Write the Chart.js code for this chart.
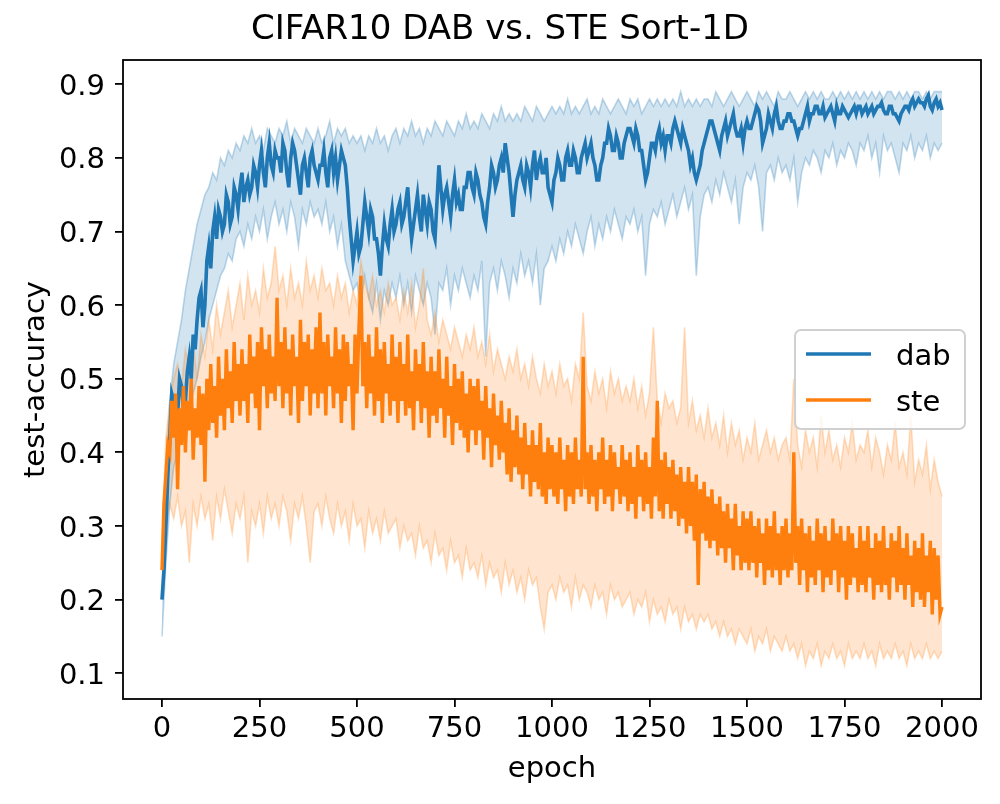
<!DOCTYPE html>
<html>
<head>
<meta charset="utf-8">
<title>CIFAR10 DAB vs. STE Sort-1D</title>
<script src="https://cdn.jsdelivr.net/npm/chart.js@4.4.1/dist/chart.umd.min.js"></script>
<style>
    html, body { margin: 0; padding: 0; background: #fff; }
    canvas { display: block; }
</style>
</head>
<body>
<canvas id="lineChart" width="1000" height="804"></canvas>
<script>
// bands: one value every 10 epochs; mean curves: every 5 epochs
var BAND_STEP = 10;
var MEAN_STEP = 5;

var dabMean = [
    0.20, 0.24, 0.30, 0.37, 0.42, 0.48, 0.47, 0.44, 0.45, 0.50, 0.49, 0.46, 0.47, 0.51, 0.53, 0.50, 0.56, 0.54, 0.58, 0.61,
    0.62, 0.57, 0.60, 0.66, 0.68, 0.65, 0.70, 0.72, 0.69, 0.73, 0.72, 0.70, 0.71, 0.75, 0.74, 0.71, 0.72, 0.76, 0.75, 0.73,
    0.76, 0.78, 0.74, 0.76, 0.77, 0.75, 0.76, 0.79, 0.78, 0.76, 0.79, 0.81, 0.78, 0.76, 0.80, 0.82, 0.79, 0.78, 0.81, 0.80,
    0.80, 0.78, 0.82, 0.81, 0.78, 0.76, 0.80, 0.82, 0.81, 0.79, 0.77, 0.75, 0.79, 0.80, 0.78, 0.76, 0.80, 0.81, 0.79, 0.78,
    0.77, 0.79, 0.79, 0.81, 0.78, 0.76, 0.80, 0.81, 0.78, 0.80, 0.77, 0.79, 0.81, 0.80, 0.79, 0.76, 0.72, 0.69, 0.66, 0.68,
    0.70, 0.67, 0.68, 0.71, 0.74, 0.72, 0.70, 0.73, 0.72, 0.69, 0.69, 0.67, 0.64, 0.68, 0.71, 0.69, 0.68, 0.71, 0.73, 0.70,
    0.71, 0.73, 0.74, 0.71, 0.72, 0.74, 0.76, 0.72, 0.69, 0.71, 0.73, 0.75, 0.72, 0.70, 0.75, 0.73, 0.71, 0.74, 0.73, 0.70,
    0.69, 0.74, 0.79, 0.76, 0.73, 0.75, 0.76, 0.74, 0.72, 0.75, 0.77, 0.74, 0.75, 0.73, 0.73, 0.76, 0.76, 0.78, 0.78, 0.76,
    0.75, 0.78, 0.77, 0.75, 0.74, 0.72, 0.71, 0.74, 0.76, 0.79, 0.78, 0.76, 0.77, 0.79, 0.80, 0.78, 0.82, 0.80, 0.78, 0.75,
    0.72, 0.75, 0.77, 0.78, 0.79, 0.77, 0.76, 0.79, 0.78, 0.76, 0.79, 0.81, 0.77, 0.79, 0.80, 0.78, 0.78, 0.80, 0.76, 0.75,
    0.74, 0.77, 0.78, 0.80, 0.79, 0.77, 0.77, 0.80, 0.81, 0.79, 0.79, 0.81, 0.80, 0.78, 0.78, 0.80, 0.81, 0.82, 0.80, 0.81,
    0.82, 0.80, 0.79, 0.77, 0.77, 0.79, 0.80, 0.82, 0.82, 0.84, 0.83, 0.81, 0.81, 0.83, 0.82, 0.80, 0.80, 0.82, 0.83, 0.84,
    0.84, 0.83, 0.82, 0.84, 0.83, 0.81, 0.81, 0.79, 0.77, 0.78, 0.80, 0.82, 0.82, 0.81, 0.83, 0.84, 0.82, 0.83, 0.81, 0.83,
    0.83, 0.82, 0.84, 0.85, 0.84, 0.83, 0.82, 0.84, 0.83, 0.82, 0.81, 0.79, 0.80, 0.78, 0.77, 0.78, 0.79, 0.81, 0.82, 0.83,
    0.84, 0.85, 0.85, 0.84, 0.83, 0.82, 0.81, 0.83, 0.84, 0.85, 0.83, 0.84, 0.85, 0.86, 0.84, 0.83, 0.83, 0.84, 0.82, 0.84,
    0.85, 0.84, 0.84, 0.85, 0.86, 0.87, 0.865, 0.85, 0.82, 0.83, 0.84, 0.86, 0.85, 0.84, 0.86, 0.87, 0.85, 0.84, 0.84, 0.85,
    0.85, 0.86, 0.86, 0.85, 0.85, 0.84, 0.83, 0.84, 0.84, 0.85, 0.86, 0.87, 0.85, 0.86, 0.86, 0.87, 0.87, 0.86, 0.86, 0.87,
    0.855, 0.86, 0.865, 0.87, 0.86, 0.85, 0.87, 0.86, 0.86, 0.87, 0.865, 0.86, 0.855, 0.86, 0.865, 0.87, 0.86, 0.87, 0.87, 0.86,
    0.865, 0.87, 0.86, 0.865, 0.87, 0.86, 0.865, 0.87, 0.87, 0.875, 0.865, 0.86, 0.86, 0.87, 0.87, 0.86, 0.86, 0.855, 0.85, 0.86,
    0.865, 0.87, 0.87, 0.865, 0.875, 0.88, 0.87, 0.875, 0.88, 0.875, 0.875, 0.87, 0.88, 0.885, 0.87, 0.865, 0.875, 0.88, 0.87, 0.875,
    0.865
];
var dabUpper = [
    0.24, 0.38, 0.47, 0.52, 0.55, 0.58, 0.62, 0.65, 0.68, 0.71, 0.73, 0.75, 0.76, 0.78, 0.77, 0.80, 0.79, 0.81, 0.80, 0.82,
    0.81, 0.83, 0.82, 0.84, 0.82, 0.83, 0.81, 0.84, 0.83, 0.82, 0.84, 0.83, 0.85, 0.82, 0.84, 0.83, 0.82, 0.84, 0.83, 0.82,
    0.84, 0.82, 0.83, 0.85, 0.82, 0.84, 0.83, 0.84, 0.82, 0.83, 0.82, 0.83, 0.81, 0.83, 0.82, 0.84, 0.82, 0.83, 0.81, 0.83,
    0.84, 0.82, 0.84, 0.83, 0.85, 0.83, 0.84, 0.82, 0.84, 0.83, 0.85, 0.84, 0.83, 0.85, 0.84, 0.83, 0.85, 0.84, 0.86, 0.84,
    0.85, 0.84, 0.86, 0.85, 0.84, 0.86, 0.85, 0.87, 0.85, 0.86, 0.85, 0.86, 0.85, 0.87, 0.86, 0.85, 0.87, 0.86, 0.85, 0.86,
    0.87, 0.86, 0.87, 0.86, 0.88, 0.86, 0.87, 0.86, 0.87, 0.88, 0.86, 0.87, 0.86, 0.88, 0.87, 0.86, 0.87, 0.88, 0.87, 0.86,
    0.88, 0.87, 0.88, 0.86, 0.87, 0.88, 0.87, 0.88, 0.87, 0.88, 0.87, 0.88, 0.87, 0.89, 0.87, 0.88, 0.87, 0.88, 0.87, 0.88,
    0.88, 0.87, 0.89, 0.88, 0.87, 0.88, 0.89, 0.88, 0.87, 0.88, 0.89, 0.88, 0.87, 0.89, 0.88, 0.89, 0.88, 0.87, 0.89, 0.88,
    0.88, 0.89, 0.88, 0.87, 0.88, 0.89, 0.88, 0.89, 0.88, 0.89, 0.88, 0.88, 0.89, 0.88, 0.89, 0.88, 0.89, 0.88, 0.89, 0.88,
    0.89, 0.88, 0.89, 0.88, 0.89, 0.88, 0.89, 0.89, 0.88, 0.89, 0.88, 0.89, 0.88, 0.89, 0.89, 0.88, 0.89, 0.88, 0.89, 0.89,
    0.89
];
var dabLower = [
    0.15, 0.25, 0.33, 0.38, 0.40, 0.42, 0.44, 0.46, 0.48, 0.50, 0.53, 0.55, 0.58, 0.60, 0.62, 0.64, 0.65, 0.67, 0.66, 0.69,
    0.70, 0.68, 0.71, 0.69, 0.72, 0.70, 0.73, 0.69, 0.72, 0.74, 0.71, 0.73, 0.70, 0.74, 0.72, 0.68, 0.73, 0.71, 0.74, 0.72,
    0.73, 0.71, 0.74, 0.70, 0.72, 0.68, 0.71, 0.66, 0.64, 0.62, 0.63, 0.60, 0.64, 0.61, 0.59, 0.63, 0.58, 0.62, 0.60, 0.63,
    0.61, 0.64, 0.60, 0.63, 0.59, 0.64, 0.62, 0.60, 0.63, 0.61, 0.56, 0.63, 0.62, 0.65, 0.60, 0.64, 0.62, 0.65, 0.63, 0.61,
    0.64, 0.62, 0.66, 0.53, 0.63, 0.65, 0.62, 0.66, 0.64, 0.61, 0.65, 0.63, 0.67, 0.64, 0.66, 0.63, 0.67, 0.60, 0.65, 0.66,
    0.68, 0.66, 0.69, 0.67, 0.70, 0.68, 0.71, 0.69, 0.67, 0.70, 0.72, 0.68, 0.71, 0.69, 0.72, 0.70, 0.73, 0.71, 0.69, 0.72,
    0.71, 0.73, 0.70, 0.72, 0.64, 0.71, 0.73, 0.72, 0.74, 0.71, 0.73, 0.75, 0.72, 0.74, 0.76, 0.73, 0.75, 0.64, 0.72, 0.75,
    0.76, 0.74, 0.77, 0.75, 0.78, 0.76, 0.74, 0.77, 0.71, 0.76, 0.78, 0.77, 0.79, 0.76, 0.70, 0.78, 0.79, 0.77, 0.80, 0.78,
    0.79, 0.77, 0.80, 0.74, 0.78, 0.80, 0.79, 0.81, 0.80, 0.78, 0.81, 0.80, 0.82, 0.79, 0.81, 0.80, 0.82, 0.81, 0.79, 0.82,
    0.81, 0.83, 0.80, 0.82, 0.78, 0.83, 0.81, 0.82, 0.80, 0.78, 0.82, 0.81, 0.83, 0.80, 0.82, 0.81, 0.83, 0.80, 0.82, 0.81,
    0.82
];

var steMean = [
    0.24, 0.33, 0.37, 0.41, 0.40, 0.47, 0.42, 0.48, 0.35, 0.46, 0.41, 0.49, 0.40, 0.47, 0.43, 0.50, 0.39, 0.46, 0.42, 0.49,
    0.41, 0.48, 0.36, 0.50, 0.43, 0.52, 0.44, 0.49, 0.42, 0.53, 0.45, 0.50, 0.43, 0.54, 0.46, 0.51, 0.44, 0.55, 0.47, 0.52,
    0.45, 0.54, 0.47, 0.52, 0.44, 0.56, 0.48, 0.53, 0.46, 0.55, 0.43, 0.57, 0.49, 0.54, 0.46, 0.56, 0.48, 0.53, 0.47, 0.61,
    0.49, 0.55, 0.46, 0.57, 0.48, 0.54, 0.45, 0.56, 0.49, 0.53, 0.44, 0.58, 0.47, 0.55, 0.49, 0.56, 0.45, 0.54, 0.48, 0.57,
    0.46, 0.59, 0.48, 0.55, 0.45, 0.56, 0.49, 0.53, 0.46, 0.57, 0.48, 0.54, 0.44, 0.56, 0.47, 0.55, 0.49, 0.52, 0.43, 0.56,
    0.48, 0.57, 0.64, 0.49, 0.55, 0.46, 0.56, 0.48, 0.53, 0.45, 0.57, 0.47, 0.54, 0.44, 0.55, 0.48, 0.52, 0.45, 0.56, 0.47,
    0.53, 0.44, 0.55, 0.47, 0.52, 0.45, 0.56, 0.46, 0.51, 0.43, 0.54, 0.47, 0.52, 0.44, 0.55, 0.46, 0.51, 0.42, 0.53, 0.45,
    0.51, 0.44, 0.54, 0.46, 0.50, 0.42, 0.53, 0.45, 0.49, 0.41, 0.52, 0.44, 0.50, 0.43, 0.51, 0.42, 0.48, 0.40, 0.50, 0.43,
    0.49, 0.41, 0.50, 0.43, 0.47, 0.39, 0.49, 0.42, 0.46, 0.38, 0.48, 0.41, 0.45, 0.39, 0.47, 0.40, 0.44, 0.37, 0.46, 0.36,
    0.43, 0.38, 0.45, 0.37, 0.42, 0.35, 0.44, 0.37, 0.41, 0.34, 0.43, 0.36, 0.41, 0.35, 0.44, 0.34, 0.40, 0.33, 0.42, 0.35,
    0.41, 0.34, 0.40, 0.33, 0.42, 0.35, 0.39, 0.32, 0.41, 0.34, 0.40, 0.33, 0.42, 0.35, 0.39, 0.34, 0.53, 0.35, 0.40, 0.33,
    0.41, 0.34, 0.39, 0.32, 0.40, 0.35, 0.42, 0.33, 0.39, 0.34, 0.41, 0.32, 0.40, 0.35, 0.38, 0.33, 0.41, 0.34, 0.39, 0.32,
    0.40, 0.33, 0.38, 0.31, 0.41, 0.34, 0.39, 0.32, 0.40, 0.33, 0.38, 0.31, 0.42, 0.34, 0.47, 0.32, 0.39, 0.31, 0.40, 0.33,
    0.38, 0.31, 0.39, 0.32, 0.37, 0.30, 0.38, 0.31, 0.36, 0.29, 0.38, 0.30, 0.36, 0.28, 0.37, 0.22, 0.35, 0.29, 0.36, 0.28,
    0.34, 0.27, 0.35, 0.28, 0.33, 0.26, 0.34, 0.27, 0.32, 0.25, 0.33, 0.27, 0.31, 0.24, 0.33, 0.26, 0.30, 0.24, 0.32, 0.25,
    0.31, 0.24, 0.32, 0.25, 0.30, 0.23, 0.31, 0.25, 0.29, 0.22, 0.31, 0.24, 0.30, 0.23, 0.32, 0.24, 0.29, 0.22, 0.30, 0.24,
    0.31, 0.23, 0.29, 0.24, 0.40, 0.25, 0.30, 0.22, 0.31, 0.24, 0.29, 0.21, 0.30, 0.23, 0.28, 0.22, 0.31, 0.24, 0.29, 0.21,
    0.30, 0.23, 0.28, 0.22, 0.31, 0.24, 0.29, 0.21, 0.30, 0.23, 0.28, 0.20, 0.30, 0.22, 0.29, 0.23, 0.27, 0.21, 0.30, 0.22,
    0.28, 0.21, 0.30, 0.23, 0.27, 0.20, 0.29, 0.22, 0.28, 0.21, 0.30, 0.22, 0.27, 0.20, 0.29, 0.23, 0.28, 0.21, 0.30, 0.22,
    0.27, 0.20, 0.29, 0.22, 0.26, 0.19, 0.28, 0.21, 0.27, 0.20, 0.29, 0.19, 0.26, 0.21, 0.28, 0.18, 0.27, 0.20, 0.26, 0.18,
    0.19
];
var steUpper = [
    0.27, 0.42, 0.47, 0.50, 0.52, 0.49, 0.54, 0.51, 0.55, 0.50, 0.56, 0.53, 0.58, 0.54, 0.60, 0.56, 0.59, 0.62, 0.57, 0.60,
    0.63, 0.58, 0.64, 0.60, 0.62, 0.59, 0.65, 0.61, 0.63, 0.68, 0.62, 0.64, 0.60, 0.65, 0.61, 0.63, 0.60, 0.66, 0.62, 0.64,
    0.61, 0.65, 0.62, 0.63, 0.60, 0.64, 0.61, 0.63, 0.59, 0.62, 0.60, 0.66, 0.63, 0.61, 0.64, 0.60, 0.62, 0.59, 0.63, 0.60,
    0.61, 0.58, 0.62, 0.59, 0.63, 0.57, 0.60, 0.65, 0.58, 0.56, 0.59, 0.55, 0.58, 0.56, 0.54, 0.57, 0.55, 0.53, 0.56, 0.54,
    0.57, 0.53, 0.55, 0.52, 0.56, 0.51, 0.54, 0.52, 0.50, 0.53, 0.51, 0.54, 0.50, 0.52, 0.49, 0.53, 0.50, 0.48, 0.52, 0.49,
    0.51, 0.48, 0.52, 0.49, 0.50, 0.47, 0.52, 0.50, 0.59, 0.49, 0.47, 0.51, 0.48, 0.50, 0.46, 0.51, 0.48, 0.50, 0.47, 0.49,
    0.47, 0.50, 0.46, 0.49, 0.45, 0.48, 0.57, 0.47, 0.44, 0.48, 0.46, 0.47, 0.44, 0.46, 0.57, 0.44, 0.47, 0.43, 0.45, 0.42,
    0.46, 0.42, 0.44, 0.41, 0.45, 0.40, 0.44, 0.41, 0.43, 0.39, 0.42, 0.40, 0.44, 0.39, 0.41, 0.43, 0.40, 0.42, 0.39, 0.41,
    0.42, 0.39, 0.50, 0.41, 0.38, 0.43, 0.40, 0.42, 0.38, 0.45, 0.40, 0.43, 0.39, 0.41, 0.38, 0.42, 0.40, 0.44, 0.39, 0.41,
    0.40, 0.43, 0.38, 0.42, 0.40, 0.37, 0.41, 0.39, 0.44, 0.38, 0.40, 0.37, 0.45, 0.36, 0.39, 0.37, 0.41, 0.35, 0.39, 0.36,
    0.34
];
var steLower = [
    0.22, 0.30, 0.33, 0.31, 0.34, 0.30, 0.32, 0.25, 0.33, 0.30, 0.34, 0.31, 0.33, 0.28, 0.34, 0.31, 0.35, 0.32, 0.29, 0.33,
    0.31, 0.34, 0.25, 0.32, 0.30, 0.33, 0.29, 0.34, 0.31, 0.33, 0.30, 0.34, 0.32, 0.28, 0.33, 0.31, 0.34, 0.30, 0.25, 0.32,
    0.33, 0.30, 0.34, 0.31, 0.29, 0.33, 0.30, 0.32, 0.28, 0.33, 0.30, 0.31, 0.27, 0.32, 0.29, 0.31, 0.28, 0.32, 0.29, 0.30,
    0.31, 0.27, 0.30, 0.28, 0.29, 0.26, 0.30, 0.27, 0.28, 0.25, 0.29, 0.26, 0.27, 0.24, 0.28, 0.25, 0.26, 0.23, 0.27, 0.24,
    0.25, 0.23, 0.26, 0.22, 0.25, 0.23, 0.24, 0.21, 0.25, 0.22, 0.24, 0.21, 0.23, 0.20, 0.24, 0.22, 0.23, 0.19, 0.16, 0.21,
    0.22, 0.20, 0.23, 0.21, 0.22, 0.19, 0.23, 0.20, 0.22, 0.21, 0.19, 0.22, 0.20, 0.21, 0.18, 0.22, 0.20, 0.21, 0.19, 0.20,
    0.21, 0.18, 0.20, 0.19, 0.21, 0.17, 0.20, 0.18, 0.19, 0.17, 0.20, 0.18, 0.19, 0.16, 0.19, 0.17, 0.18, 0.16, 0.18, 0.17,
    0.18, 0.16, 0.17, 0.15, 0.17, 0.15, 0.16, 0.14, 0.16, 0.15, 0.14, 0.16, 0.13, 0.15, 0.14, 0.16, 0.13, 0.15, 0.14, 0.13,
    0.15, 0.13, 0.14, 0.12, 0.14, 0.11, 0.13, 0.12, 0.14, 0.11, 0.13, 0.12, 0.14, 0.12, 0.13, 0.11, 0.14, 0.12, 0.13, 0.12,
    0.14, 0.12, 0.13, 0.11, 0.14, 0.12, 0.13, 0.12, 0.14, 0.12, 0.13, 0.11, 0.14, 0.12, 0.13, 0.12, 0.14, 0.12, 0.13, 0.12,
    0.13
];

var seriesNames = ["dab", "ste"];
var yTicks = [0.1, 0.2, 0.3, 0.4, 0.5, 0.6, 0.7, 0.8, 0.9];
var xTicks = [0, 250, 500, 750, 1000, 1250, 1500, 1750, 2000];

(function () {
    "use strict";

    var FONT = "'DejaVu Sans', 'Liberation Sans', sans-serif";
    var BLUE = "#1f77b4";
    var ORANGE = "#ff7f0e";

    function toPoints(values, step) {
        return values.map(function (v, i) {
            return {x: i * step, y: v};
        });
    }

    // matplotlib-like box around the axes
    var frame = {
        id: "frame",
        afterDatasetsDraw: function (chart) {
            var a = chart.chartArea, ctx = chart.ctx;
            ctx.save();
            ctx.strokeStyle = "#000";
            ctx.lineWidth = 1.8;
            ctx.strokeRect(a.left, a.top, a.right - a.left, a.bottom - a.top);
            ctx.restore();
        }
    };

    // legend drawn inside the axes, right side
    var innerLegend = {
        id: "innerLegend",
        afterDraw: function (chart) {
            var a = chart.chartArea, ctx = chart.ctx;
            var x = a.right - 186, y = 330, w = 170, h = 99, r = 6;
            ctx.save();
            ctx.beginPath();
            ctx.moveTo(x + r, y);
            ctx.arcTo(x + w, y, x + w, y + h, r);
            ctx.arcTo(x + w, y + h, x, y + h, r);
            ctx.arcTo(x, y + h, x, y, r);
            ctx.arcTo(x, y, x + w, y, r);
            ctx.closePath();
            ctx.fillStyle = "rgba(255,255,255,0.8)";
            ctx.fill();
            ctx.strokeStyle = "#d0d0d0";
            ctx.lineWidth = 2;
            ctx.stroke();

            var colors = [BLUE, ORANGE];
            ctx.font = "29px " + FONT;
            ctx.textBaseline = "alphabetic";
            ctx.fillStyle = "#000";
            for (var i = 0; i < seriesNames.length; i++) {
                var ly = y + 24 + i * 46;
                ctx.strokeStyle = colors[i];
                ctx.lineWidth = 3.4;
                ctx.beginPath();
                ctx.moveTo(x + 11, ly);
                ctx.lineTo(x + 76, ly);
                ctx.stroke();
                ctx.fillText(seriesNames[i], x + 101, ly + 11);
            }
            ctx.restore();
        }
    };

    var tickFont = {family: FONT, size: 29};

    var ctx = document.getElementById("lineChart").getContext("2d");

    var chart = new Chart(ctx, {
        type: "line",
        data: {
            datasets: [
                {
                    label: "dab-upper",
                    data: toPoints(dabUpper, BAND_STEP),
                    borderColor: "rgba(31,119,180,0.28)",
                    borderWidth: 1.6,
                    fill: false,
                    order: 4
                },
                {
                    label: "dab-lower",
                    data: toPoints(dabLower, BAND_STEP),
                    borderColor: "rgba(31,119,180,0.28)",
                    backgroundColor: "rgba(31,119,180,0.2)",
                    borderWidth: 1.6,
                    fill: "-1",
                    order: 4
                },
                {
                    label: "ste-upper",
                    data: toPoints(steUpper, BAND_STEP),
                    borderColor: "rgba(255,127,14,0.25)",
                    borderWidth: 1.6,
                    fill: false,
                    order: 3
                },
                {
                    label: "ste-lower",
                    data: toPoints(steLower, BAND_STEP),
                    borderColor: "rgba(255,127,14,0.25)",
                    backgroundColor: "rgba(255,127,14,0.2)",
                    borderWidth: 1.6,
                    fill: "-1",
                    order: 3
                },
                {
                    label: seriesNames[0],
                    data: toPoints(dabMean, MEAN_STEP),
                    borderColor: BLUE,
                    borderWidth: 3.6,
                    fill: false,
                    order: 2
                },
                {
                    label: seriesNames[1],
                    data: toPoints(steMean, MEAN_STEP),
                    borderColor: ORANGE,
                    borderWidth: 3.4,
                    fill: false,
                    order: 1
                }
            ]
        },
        options: {
            responsive: false,
            animation: false,
            devicePixelRatio: 1,
            layout: {padding: 0},
            elements: {point: {radius: 0}, line: {tension: 0}},
            plugins: {
                legend: {display: false},
                tooltip: {enabled: false},
                title: {
                    display: true,
                    text: "CIFAR10 DAB vs. STE Sort-1D",
                    color: "#000",
                    font: {family: FONT, size: 34, weight: "normal"},
                    padding: {top: 10.2, bottom: 9}
                }
            },
            scales: {
                x: {
                    type: "linear",
                    min: -100,
                    max: 2100,
                    afterFit: function (scale) { scale.height = 105; },
                    afterBuildTicks: function (scale) {
                        scale.ticks = xTicks.map(function (v) { return {value: v}; });
                    },
                    ticks: {
                        color: "#000",
                        font: tickFont,
                        padding: 5,
                        maxRotation: 0,
                        autoSkip: false,
                        callback: function (v) { return String(v); }
                    },
                    grid: {drawOnChartArea: false, drawTicks: true, tickLength: 8, color: "#000", lineWidth: 1.8},
                    border: {display: false},
                    title: {
                        display: true,
                        text: "epoch",
                        color: "#000",
                        font: tickFont,
                        padding: {top: 0, bottom: 17}
                    }
                },
                y: {
                    type: "linear",
                    min: 0.065,
                    max: 0.933,
                    afterFit: function (scale) { scale.width = 123; },
                    afterBuildTicks: function (scale) {
                        scale.ticks = yTicks.map(function (v) { return {value: v}; });
                    },
                    ticks: {
                        color: "#000",
                        font: tickFont,
                        padding: 10,
                        labelOffset: 3,
                        callback: function (v) { return v.toFixed(1); }
                    },
                    grid: {drawOnChartArea: false, drawTicks: true, tickLength: 8, color: "#000", lineWidth: 1.8},
                    border: {display: false},
                    title: {
                        display: true,
                        text: "test-accuracy",
                        color: "#000",
                        font: tickFont,
                        padding: {top: 19, bottom: 0}
                    }
                },
                // empty strip on the right so the axes end where the reference does
                yRight: {
                    type: "linear",
                    position: "right",
                    afterFit: function (scale) { scale.width = 19; },
                    ticks: {display: false},
                    grid: {display: false},
                    border: {display: false}
                }
            }
        },
        plugins: [frame, innerLegend]
    });
})();
</script>
</body>
</html>
